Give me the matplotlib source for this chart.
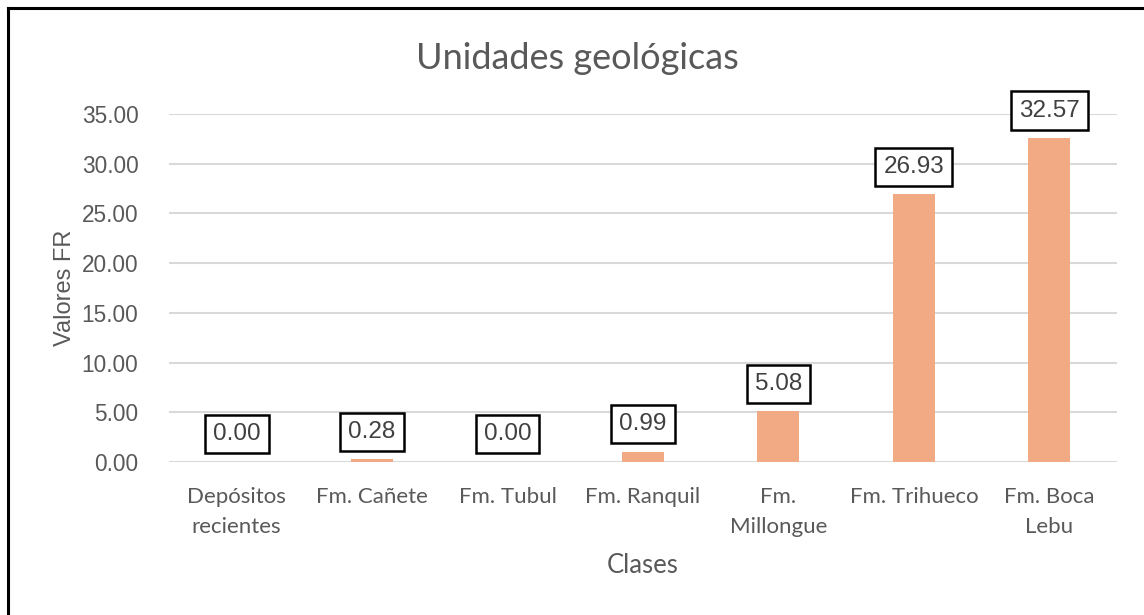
import matplotlib.pyplot as plt
from matplotlib.lines import Line2D

categories = ["Depósitos\nrecientes", "Fm. Cañete", "Fm. Tubul", "Fm. Ranquil",
              "Fm.\nMillongue", "Fm. Trihueco", "Fm. Boca\nLebu"]
values = [0.00, 0.28, 0.00, 0.99, 5.08, 26.93, 32.57]
yticks = [0, 5, 10, 15, 20, 25, 30, 35]

text_col = "#595959"
bar_col = "#F1AA84"

fig = plt.figure(figsize=(11.44, 6.15), dpi=100)
ax = fig.add_axes([0.1477, 0.2488, 0.8287, 0.5658])

x = range(len(categories))
ax.bar(x, values, width=0.31, color=bar_col, zorder=3)

for xi, v in zip(x, values):
    ax.annotate(f"{v:.2f}", (xi, v), xytext=(0, 12), textcoords="offset points",
                ha="center", va="bottom", fontsize=17.5, color="#404040",
                family="Liberation Sans", zorder=5,
                bbox=dict(boxstyle="square,pad=0.33", fc="white", ec="black", lw=1.8))

ax.set_xlim(-0.5, len(categories) - 0.5)
ax.set_ylim(0, 35)
ax.set_yticks(yticks)
ax.set_yticklabels([f"{t:.2f}" for t in yticks], family="Liberation Sans",
                   fontsize=16.3, color=text_col)
ax.set_xticks(list(x))
ax.set_xticklabels(categories, family="Lato", fontsize=16, color=text_col,
                   linespacing=1.6)
ax.tick_params(axis="both", length=0)
ax.tick_params(axis="x", pad=18)
ax.tick_params(axis="y", pad=22)
ax.grid(axis="y", color="#D9D9D9", lw=1.5, zorder=0)
for s in ax.spines.values():
    s.set_visible(False)

ax.set_ylabel("Valores FR", family="Liberation Sans", fontsize=17,
              color=text_col, labelpad=4)
ax.set_xlabel("Clases", family="Lato", fontsize=18.5, color=text_col, labelpad=12)
fig.text(0.505, 0.905, "Unidades geológicas", ha="center", va="center",
         family="Lato", fontsize=26, color=text_col)

# chart border (top and left visible, rest cropped)
fig.add_artist(Line2D([0.0068, 1.0], [0.9870, 0.9870], color="black", lw=2.2))
fig.add_artist(Line2D([0.0068, 0.0068], [0.0, 0.9870], color="black", lw=2.2))

fig.savefig("out.png", dpi=100)
